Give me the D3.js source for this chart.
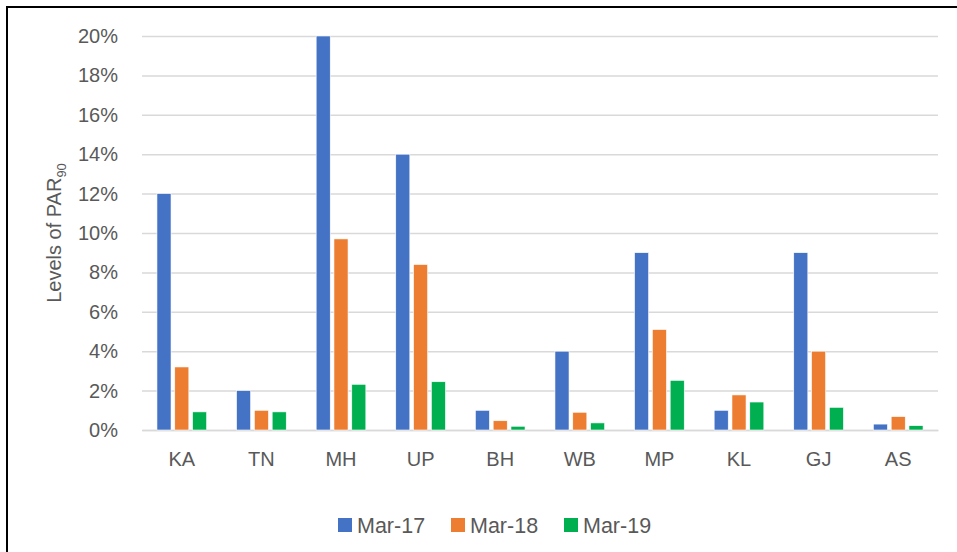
<!DOCTYPE html>
<html>
<head>
<meta charset="utf-8">
<script src="https://cdn.jsdelivr.net/npm/d3@7"></script>
<style>
  body { margin: 0; background: #fff; }
  text { font-family: "Liberation Sans", Arial, sans-serif; fill: #595959; }
</style>
</head>
<body>
<div id="container"></div>
<script>
/* DATA */
const states = ["KA", "TN", "MH", "UP", "BH", "WB", "MP", "KL", "GJ", "AS"];
const seriesNames = ["Mar-17", "Mar-18", "Mar-19"];
const mar17 = [12, 2, 20, 14, 1, 4, 9, 1, 9, 0.3];
const mar18 = [3.2, 1, 9.7, 8.4, 0.47, 0.9, 5.1, 1.78, 4, 0.68];
const mar19 = [0.92, 0.92, 2.32, 2.45, 0.19, 0.36, 2.52, 1.42, 1.15, 0.22];
const yTicks = [0, 2, 4, 6, 8, 10, 12, 14, 16, 18, 20];
const colors = ["#4472C4", "#ED7D31", "#00B050"];

/* CONSTANTS */
const width = 957,
  height = 552,
  margin = { top: 36, bottom: 122, left: 142, right: 19 };

const rows = states.map((s, i) => ({
  state: s,
  values: [mar17[i], mar18[i], mar19[i]]
}));

const svg = d3.select("#container")
  .append("svg")
  .attr("width", width)
  .attr("height", height);

// outer frame (cut off at right and bottom)
svg.append("rect")
  .attr("x", 7)
  .attr("y", 7)
  .attr("width", width + 20)
  .attr("height", height + 20)
  .attr("fill", "none")
  .attr("stroke", "#000")
  .attr("stroke-width", 2);

/* SCALES */
const x0 = d3.scaleBand()
  .domain(states)
  .range([margin.left, width - margin.right]);

const x1 = d3.scaleBand()
  .domain(seriesNames)
  .range([0, x0.bandwidth()])
  .paddingInner(0.21)
  .paddingOuter(0.84);

const yScale = d3.scaleLinear()
  .domain([0, 20])
  .range([height - margin.bottom, margin.top]);

const color = d3.scaleOrdinal().domain(seriesNames).range(colors);

/* GRIDLINES + Y AXIS */
const yAxis = d3.axisLeft(yScale)
  .tickValues(yTicks)
  .tickSize(-(width - margin.left - margin.right))
  .tickPadding(24)
  .tickFormat(d => d + "%");

svg.append("g")
  .attr("transform", `translate(${margin.left},0)`)
  .call(yAxis)
  .call(g => g.select(".domain").remove())
  .call(g => g.selectAll(".tick line").attr("stroke", "#d9d9d9").attr("stroke-width", 1.5))
  .call(g => g.selectAll(".tick text")
    .style("font-size", "20px")
    .attr("fill", "#595959"));

/* X AXIS */
const xAxis = d3.axisBottom(x0).tickSize(0).tickPadding(22);
svg.append("g")
  .attr("transform", `translate(0,${height - margin.bottom})`)
  .call(xAxis)
  .call(g => g.select(".domain").attr("stroke", "#d9d9d9").attr("stroke-width", 1.5))
  .call(g => g.selectAll(".tick text")
    .style("font-size", "20px")
    .attr("fill", "#595959"));

/* BARS */
svg.append("g")
  .selectAll("g")
  .data(rows)
  .join("g")
  .attr("transform", d => `translate(${x0(d.state)},0)`)
  .selectAll("rect")
  .data(d => d.values.map((v, i) => ({ key: seriesNames[i], value: v })))
  .join("rect")
  .attr("x", d => x1(d.key))
  .attr("y", d => yScale(d.value))
  .attr("width", x1.bandwidth())
  .attr("height", d => yScale(0) - yScale(d.value))
  .attr("fill", d => color(d.key))
  .attr("stroke", "#fff")
  .attr("stroke-width", 0.6);

/* Y AXIS TITLE */
const yTitle = svg.append("text")
  .attr("transform", `translate(61,${(margin.top + height - margin.bottom) / 2}) rotate(-90)`)
  .attr("text-anchor", "middle")
  .style("font-size", "20px");
yTitle.append("tspan").text("Levels of PAR");
yTitle.append("tspan").attr("dy", 5).style("font-size", "13px").text("90");

/* LEGEND */
const legendX = [338, 451, 564];
const legend = svg.append("g")
  .selectAll("g")
  .data(seriesNames)
  .join("g")
  .attr("transform", (d, i) => `translate(${legendX[i]},518)`);

legend.append("rect")
  .attr("width", 14)
  .attr("height", 14)
  .attr("fill", d => color(d));

legend.append("text")
  .attr("x", 19)
  .attr("y", 7)
  .attr("dy", "0.35em")
  .style("font-size", "21.5px")
  .text(d => d);
</script>
</body>
</html>
